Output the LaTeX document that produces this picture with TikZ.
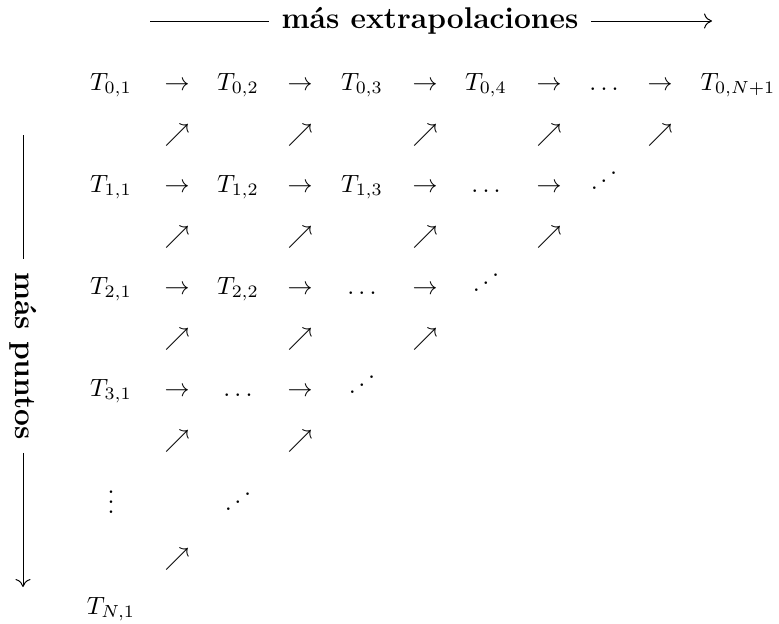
\documentclass[tikz,border=0pt]{standalone}
\usepackage{graphicx}
\usetikzlibrary{arrows.meta}
\newcommand{\antidots}{\reflectbox{$\ddots$}}

\tikzset{
  entry/.style={anchor=base, inner sep=0pt},
  axislabel/.style={font=\large\bfseries, inner xsep=5pt, inner ysep=0pt},
  axisarrow/.style={-{To[length=3.2pt,width=6pt]}},
}

\begin{document}
\begin{tikzpicture}[x=0.4pt, y=-0.4pt]
  \useasboundingbox (0,0) rectangle (779,623);

  % axis labels
  \coordinate (hstart) at (150,21);
  \coordinate (hend) at (712,21);
  \node[axislabel] (masext) at (430,21) {más extrapolaciones};
  \draw (hstart) -- (masext.west);
  \draw[axisarrow] (masext.east) -- (hend);

  \coordinate (vstart) at (23,135);
  \coordinate (vend) at (23,587);
  \node[axislabel, rotate=-90] (maspts) at (23,356) {más puntos};
  \draw (vstart) -- (maspts.west);
  \draw[axisarrow] (maspts.east) -- (vend);

  % row 0
  \node[entry] (t01) at (111,90) {$T_{0,1}$};
  \node[entry] (r01) at (177,90) {$\rightarrow$};
  \node[entry] (t02) at (238,90) {$T_{0,2}$};
  \node[entry] (r02) at (300,90) {$\rightarrow$};
  \node[entry] (t03) at (362,90) {$T_{0,3}$};
  \node[entry] (r03) at (425,90) {$\rightarrow$};
  \node[entry] (t04) at (486,90) {$T_{0,4}$};
  \node[entry] (r04) at (549,90) {$\rightarrow$};
  \node[entry] (d05) at (604,90) {$\ldots$};
  \node[entry] (r05) at (660,90) {$\rightarrow$};
  \node[entry] (t06) at (738,90) {$T_{0,N+1}$};

  \node[entry] (u11) at (177,141) {$\nearrow$};
  \node[entry] (u12) at (300,141) {$\nearrow$};
  \node[entry] (u13) at (425,141) {$\nearrow$};
  \node[entry] (u14) at (549,141) {$\nearrow$};
  \node[entry] (u15) at (660,141) {$\nearrow$};

  % row 1
  \node[entry] (t11) at (111,192) {$T_{1,1}$};
  \node[entry] (r11) at (177,192) {$\rightarrow$};
  \node[entry] (t12) at (238,192) {$T_{1,2}$};
  \node[entry] (r12) at (300,192) {$\rightarrow$};
  \node[entry] (t13) at (362,192) {$T_{1,3}$};
  \node[entry] (r13) at (425,192) {$\rightarrow$};
  \node[entry] (d14) at (486,192) {$\ldots$};
  \node[entry] (r14) at (549,192) {$\rightarrow$};
  \node[entry] (a15) at (604,192) {\antidots};

  \node[entry] (u21) at (177,243) {$\nearrow$};
  \node[entry] (u22) at (300,243) {$\nearrow$};
  \node[entry] (u23) at (425,243) {$\nearrow$};
  \node[entry] (u24) at (549,243) {$\nearrow$};

  % row 2
  \node[entry] (t21) at (111,294) {$T_{2,1}$};
  \node[entry] (r21) at (177,294) {$\rightarrow$};
  \node[entry] (t22) at (238,294) {$T_{2,2}$};
  \node[entry] (r22) at (300,294) {$\rightarrow$};
  \node[entry] (d23) at (362,294) {$\ldots$};
  \node[entry] (r23) at (425,294) {$\rightarrow$};
  \node[entry] (a24) at (486,294) {\antidots};

  \node[entry] (u31) at (177,345) {$\nearrow$};
  \node[entry] (u32) at (300,345) {$\nearrow$};
  \node[entry] (u33) at (425,345) {$\nearrow$};

  % row 3
  \node[entry] (t31) at (111,396) {$T_{3,1}$};
  \node[entry] (r31) at (177,396) {$\rightarrow$};
  \node[entry] (d32) at (238,396) {$\ldots$};
  \node[entry] (r32) at (300,396) {$\rightarrow$};
  \node[entry] (a33) at (362,396) {\antidots};

  \node[entry] (u41) at (177,447) {$\nearrow$};
  \node[entry] (u42) at (300,447) {$\nearrow$};

  % dots row and last entry
  \node[entry] (v51) at (111,513) {$\vdots$};
  \node[entry] (a52) at (238,513) {\antidots};

  \node[entry] (u61) at (177,565) {$\nearrow$};

  \node[entry] (tN1) at (111,614) {$T_{N,1}$};
\end{tikzpicture}
\end{document}
